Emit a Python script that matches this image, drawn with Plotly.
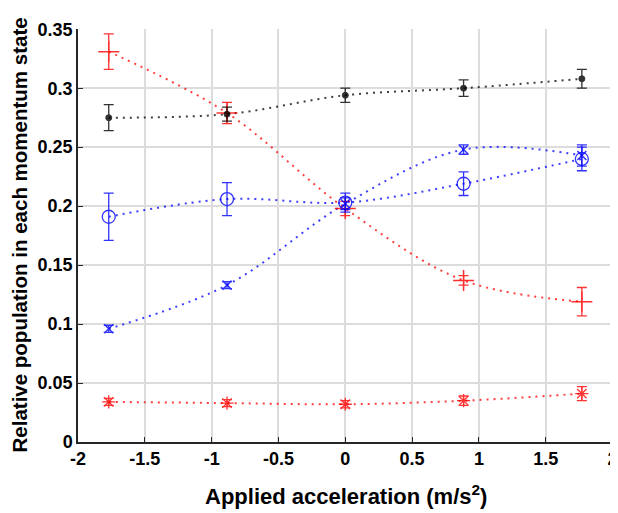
import plotly.graph_objects as go

accel = [-1.77, -0.885, 0.0, 0.885, 1.77]

red_plus = [0.331, 0.279, 0.198, 0.137, 0.119]
red_plus_err = [0.015, 0.009, 0.006, 0.004, 0.012]

black_dot = [0.275, 0.278, 0.294, 0.300, 0.308]
black_dot_err = [0.011, 0.006, 0.006, 0.007, 0.008]

blue_circle = [0.191, 0.206, 0.203, 0.219, 0.240]
blue_circle_err = [0.020, 0.014, 0.008, 0.010, 0.010]

blue_x = [0.096, 0.133, 0.202, 0.248, 0.243]
blue_x_err = [0.003, 0.003, 0.005, 0.004, 0.009]

red_star = [0.034, 0.033, 0.032, 0.035, 0.041]
red_star_err = [0.003, 0.003, 0.003, 0.004, 0.006]

x_ticks = [-2, -1.5, -1, -0.5, 0, 0.5, 1, 1.5, 2]
x_tick_text = ["-2", "-1.5", "-1", "-0.5", "0", "0.5", "1", "1.5", "2"]
y_ticks = [0, 0.05, 0.1, 0.15, 0.2, 0.25, 0.3, 0.35]
y_tick_text = ["0", "0.05", "0.1", "0.15", "0.2", "0.25", "0.3", "0.35"]

x_title = "Applied acceleration (m/s<sup>2</sup>)"
y_title = "Relative population in each momentum state"

RED = "rgb(255,0,0)"
BLUE = "rgb(0,0,255)"
BLACK = "rgb(0,0,0)"

series = [
    (red_plus, red_plus_err, RED, "cross-thin-open", 15, 1.5),
    (black_dot, black_dot_err, BLACK, "circle", 6, 1),
    (blue_circle, blue_circle_err, BLUE, "circle-open", 13, 1.3),
    (blue_x, blue_x_err, BLUE, "x-thin-open", 9, 1.5),
    (red_star, red_star_err, RED, "asterisk-open", 11, 1.3),
]

fig = go.Figure()
for ys, errs, col, sym, sz, lw in series:
    fig.add_trace(go.Scatter(
        x=accel, y=ys, mode="lines",
        line=dict(color=col, width=2, dash="2px,5px", shape="spline", smoothing=1.0),
        opacity=0.75, hoverinfo="skip", showlegend=False,
    ))
for ys, errs, col, sym, sz, lw in series:
    fig.add_trace(go.Scatter(
        x=accel, y=ys, mode="markers",
        marker=dict(symbol=sym, size=sz, color=col, line=dict(color=col, width=lw)),
        error_y=dict(type="data", array=errs, visible=True, color=col, thickness=1.3, width=5),
        opacity=0.8, showlegend=False,
    ))

font_family = "Liberation Sans, Arial, sans-serif"
axis_common = dict(
    automargin=False,
    showgrid=True, gridcolor="rgb(220,220,220)", gridwidth=1.5,
    zeroline=False, showline=True, linecolor="rgb(38,38,38)", linewidth=1.5,
    ticks="inside", ticklen=5, tickcolor="rgb(38,38,38)",
    tickfont=dict(size=18, weight="bold"),
    ticklabeloverflow="allow",
)
fig.update_layout(
    width=610, height=505,
    margin=dict(l=70, r=5, t=21, b=71),
    paper_bgcolor="white", plot_bgcolor="white",
    font=dict(family=font_family, color="black"),
    xaxis=dict(range=[-2, 2.003], tickvals=x_ticks, ticktext=x_tick_text, **axis_common),
    yaxis=dict(range=[0, 0.3502], tickvals=y_ticks, ticktext=y_tick_text, **axis_common),
    annotations=[
        dict(text=x_title, x=0.5, y=0, xref="paper", yref="paper",
             xanchor="center", yanchor="middle", yshift=-53, showarrow=False,
             font=dict(size=22, weight="bold")),
        dict(text=y_title, x=0, y=0.5, xref="paper", yref="paper",
             xanchor="center", yanchor="middle", xshift=-59, textangle=-90, showarrow=False,
             font=dict(size=20.5, weight="bold")),
    ],
)

fig.write_html("out.html")
